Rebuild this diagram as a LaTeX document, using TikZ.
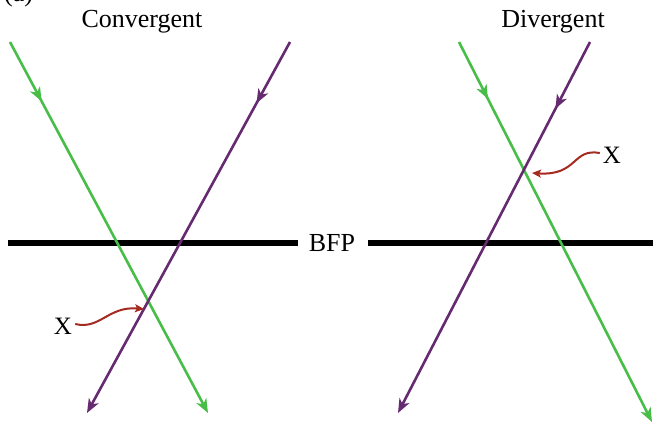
\documentclass[tikz,border=0pt]{standalone}
\usepackage{fontspec}
\setmainfont{Liberation Serif}
\usetikzlibrary{arrows.meta,decorations.markings}
\definecolor{raygreen}{RGB}{72,190,72}
\definecolor{raypurple}{RGB}{102,42,112}
\definecolor{xred}{RGB}{165,42,32}
\tikzset{
  tipstyle/.tip={Stealth[length=14pt,width=11pt,inset=4pt]},
  ray/.style={line width=2.6pt, -tipstyle},
  midarrow/.style={postaction={decorate}, decoration={markings, mark=at position #1 with {\arrow{tipstyle}}}},
  lbl/.style={font=\fontsize{26}{28}\selectfont, inner sep=0pt},
  xarrow/.style={xred, line width=2pt, -{Stealth[length=9pt,width=8pt,inset=2pt]}},
  bfp/.style={line width=6pt, black},
}
\begin{document}
\begin{tikzpicture}[x=1pt,y=-1pt]
\useasboundingbox (0,0) rectangle (653,428);
\clip (0,0) rectangle (653,428);
% partial label at top
\node[lbl, anchor=base west] (panel) at (4,2) {(a)};
% titles
\node[lbl] (conv) at (142,22) {Convergent};
\node[lbl] (div) at (553,22) {Divergent};
% BFP
\node[lbl] (bfp) at (332,243) {BFP};
\coordinate (bfpL) at (8,243);
\coordinate (bfpR) at (653,243);
\draw[bfp] (bfpL) -- (bfp.west -| 298,0);
\draw[bfp] (bfp.east -| 368,0) -- (bfpR);
% convergent rays
\coordinate (cg1) at (10,42);
\coordinate (cg2) at (208,413);
\coordinate (cp1) at (290,42);
\coordinate (cp2) at (87,413);
\draw[ray, raygreen, midarrow=0.16] (cg1) -- (cg2);
\draw[ray, raypurple, midarrow=0.165] (cp1) -- (cp2);
% divergent rays
\coordinate (dg1) at (459,42);
\coordinate (dg2) at (652,422);
\coordinate (dp1) at (590,42);
\coordinate (dp2) at (398,413);
\draw[ray, raygreen, midarrow=0.15] (dg1) -- (dg2);
\draw[ray, raypurple, midarrow=0.18] (dp1) -- (dp2);
% X labels
\node[lbl, font=\fontsize{25}{27}\selectfont] (xl) at (63,326) {X};
\coordinate (xlcross) at (144,309);
\draw[xarrow] (xl.east) ++(3,-2) .. controls (100,330) and (108,306) .. (xlcross);
\node[lbl, font=\fontsize{25}{27}\selectfont] (xr) at (612,155) {X};
\coordinate (xrcross) at (532,173);
\draw[xarrow] (xr.west) ++(-3,-2) .. controls (572,148) and (578,176) .. (xrcross);
\end{tikzpicture}
\end{document}
